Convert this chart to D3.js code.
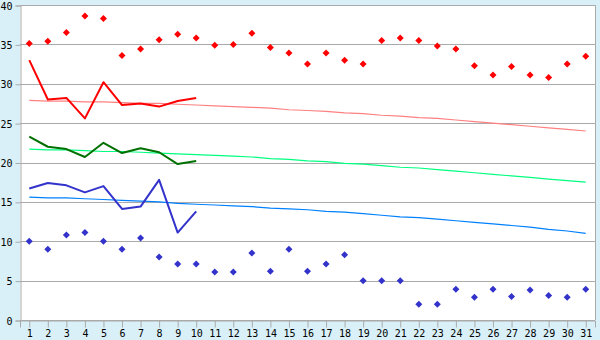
<!DOCTYPE html>
<html>
<head>
<meta charset="utf-8">
<script src="https://cdn.jsdelivr.net/npm/d3@7"></script>
<style>
  html, body { margin: 0; padding: 0; background: #d9f0f8; }
  svg { display: block; }
  text { font-family: "DejaVu Sans Mono", monospace; font-size: 10px; fill: #000; }
</style>
</head>
<body>
<script>
var days = d3.range(1, 32);
var yTicks = [0, 5, 10, 15, 20, 25, 30, 35, 40];

// record highs / lows for each day
var recordHigh = [35.1, 35.4, 36.5, 38.6, 38.3, 33.6, 34.4, 35.6, 36.3, 35.8,
                  34.9, 35.0, 36.4, 34.6, 33.9, 32.5, 33.9, 33.0, 32.5, 35.5,
                  35.8, 35.5, 34.8, 34.4, 32.3, 31.1, 32.2, 31.1, 30.8, 32.5, 33.5];
var recordLow = [10.0, 9.0, 10.8, 11.1, 10.0, 9.0, 10.4, 8.0, 7.1, 7.1,
                 6.1, 6.1, 8.5, 6.2, 9.0, 6.2, 7.1, 8.3, 5.0, 5.0,
                 5.0, 2.0, 2.0, 3.9, 2.9, 3.9, 3.0, 3.8, 3.1, 2.9, 3.9];

// this month so far (days 1-10)
var obsMax = [33.0, 28.0, 28.2, 25.6, 30.2, 27.3, 27.5, 27.1, 27.8, 28.2];
var obsMean = [23.3, 22.0, 21.7, 20.7, 22.5, 21.2, 21.8, 21.3, 19.8, 20.2];
var obsMin = [16.7, 17.4, 17.1, 16.2, 17.0, 14.1, 14.4, 17.8, 11.1, 13.8];

// normals
var normMax = [27.9, 27.8, 27.8, 27.7, 27.7, 27.6, 27.5, 27.5, 27.4, 27.3,
               27.2, 27.1, 27.0, 26.9, 26.7, 26.6, 26.5, 26.3, 26.2, 26.0,
               25.9, 25.7, 25.6, 25.4, 25.2, 25.0, 24.8, 24.6, 24.4, 24.2, 24.0];
var normMean = [21.7, 21.6, 21.6, 21.5, 21.4, 21.4, 21.3, 21.2, 21.1, 21.0,
                20.9, 20.8, 20.7, 20.5, 20.4, 20.2, 20.1, 19.9, 19.8, 19.6,
                19.4, 19.3, 19.1, 18.9, 18.7, 18.5, 18.3, 18.1, 17.9, 17.7, 17.5];
var normMin = [15.6, 15.5, 15.5, 15.4, 15.3, 15.2, 15.1, 15.0, 14.8, 14.7,
               14.6, 14.5, 14.4, 14.2, 14.1, 14.0, 13.8, 13.7, 13.5, 13.3,
               13.1, 13.0, 12.8, 12.6, 12.4, 12.2, 12.0, 11.8, 11.5, 11.3, 11.0];

(function () {
  var W = 600, H = 340;
  var pl = 20, pr = 595, pt = 5, pb = 320;

  var svg = d3.select("body")
    .append("svg")
    .attr("width", W)
    .attr("height", H);

  var x = d3.scalePoint()
    .domain(days)
    .range([pl, pr])
    .padding(0.5);

  var y = d3.scaleLinear()
    .domain([0, 40])
    .range([pb, pt]);

  // plot background
  svg.append("rect")
    .attr("x", pl)
    .attr("y", pt)
    .attr("width", pr - pl)
    .attr("height", pb - pt)
    .attr("fill", "#fff");

  // grid
  svg.append("g")
    .selectAll("line")
    .data(yTicks)
  .enter()
    .append("line")
    .attr("x1", pl)
    .attr("x2", pr)
    .attr("y1", function (d) { return Math.round(y(d)) + 0.5; })
    .attr("y2", function (d) { return Math.round(y(d)) + 0.5; })
    .style("stroke", "#aaa");

  // right border
  svg.append("line")
    .attr("x1", pr + 0.5).attr("x2", pr + 0.5)
    .attr("y1", pt).attr("y2", pb)
    .style("stroke", "#aaa");

  var yAxis = svg.append("g")
    .attr("transform", "translate(" + (pl + 0.5) + ",0.5)")
    .call(d3.axisLeft(y).tickValues(yTicks).tickSize(5).tickPadding(3));

  var xAxis = svg.append("g")
    .attr("transform", "translate(0," + (Math.round(pb) + 0.5) + ")")
    .call(d3.axisBottom(x).tickSize(7).tickPadding(2));

  [yAxis, xAxis].forEach(function (g) {
    g.select(".domain").style("stroke", "#aaa");
    g.selectAll(".tick line").style("stroke", "#aaa");
    g.selectAll(".tick text").style("font-family", "DejaVu Sans Mono").style("font-size", "10px");
  });
  yAxis.selectAll(".tick text").attr("dy", "0.35em");

  var line = function (values) {
    return d3.line()
      .x(function (d, i) { return x(days[i]); })
      .y(function (d) { return y(d); })(values);
  };

  // normals (thin)
  [[normMax, "#ff8080"], [normMean, "#00ff80"], [normMin, "#0080ff"]].forEach(function (s) {
    svg.append("path")
      .attr("d", line(s[0]))
      .attr("fill", "none")
      .style("stroke", s[1])
      .style("stroke-width", 1.2);
  });

  // observed (thick)
  [[obsMax, "#ff0000"], [obsMean, "#007000"], [obsMin, "#3333cc"]].forEach(function (s) {
    svg.append("path")
      .attr("d", line(s[0]))
      .attr("fill", "none")
      .style("stroke", s[1])
      .style("stroke-width", 2)
      .style("stroke-linejoin", "round");
  });

  var diamond = "M0,-3.5L3.5,0L0,3.5L-3.5,0Z";

  [[recordHigh, "#ff0000"], [recordLow, "#3333cc"]].forEach(function (s) {
    svg.append("g")
      .selectAll("path")
      .data(s[0])
    .enter()
      .append("path")
      .attr("d", diamond)
      .attr("transform", function (d, i) { return "translate(" + x(days[i]) + "," + y(d) + ")"; })
      .attr("fill", s[1]);
  });
})();
</script>
</body>
</html>
